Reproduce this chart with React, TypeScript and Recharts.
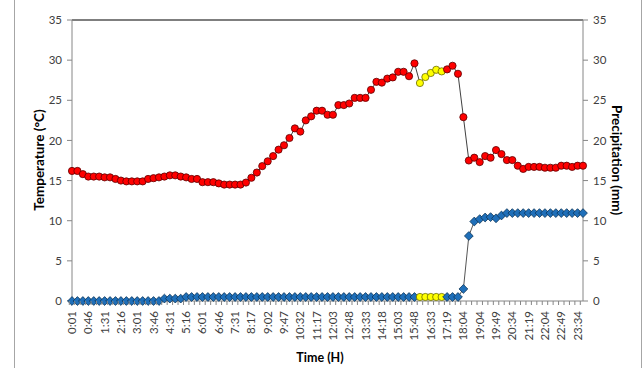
import React from "react";
import { ComposedChart, Line, XAxis, YAxis, ReferenceLine } from "recharts";

const times = [
  "0:01","0:16","0:31","0:46","1:01","1:16","1:31","1:46","2:01","2:16",
  "2:31","2:46","3:01","3:16","3:31","3:46","4:01","4:16","4:31","4:46",
  "5:01","5:16","5:31","5:46","6:01","6:16","6:31","6:46","7:01","7:16",
  "7:31","7:46","8:02","8:17","8:32","8:47","9:02","9:17","9:32","9:47",
  "10:02","10:17","10:32","10:47","11:02","11:17","11:33","11:48","12:03","12:18",
  "12:33","12:48","13:03","13:18","13:33","13:48","14:03","14:18","14:33","14:48",
  "15:03","15:18","15:33","15:48","16:03","16:18","16:33","16:49","17:04","17:19",
  "17:34","17:49","18:04","18:24","18:44","19:04","19:19","19:34","19:49","20:04",
  "20:19","20:34","20:49","21:04","21:19","21:34","21:49","22:04","22:19","22:34",
  "22:49","23:04","23:19","23:34","23:49",
];

const temperature = [
  16.2, 16.2, 15.8, 15.5, 15.5, 15.5, 15.4, 15.4, 15.2, 15.0,
  14.9, 14.9, 14.9, 14.9, 15.2, 15.3, 15.4, 15.5, 15.65, 15.65,
  15.5, 15.4, 15.2, 15.2, 14.8, 14.8, 14.8, 14.65, 14.5, 14.5,
  14.5, 14.5, 14.75, 15.35, 16.0, 16.8, 17.4, 18.05, 18.85, 19.4,
  20.3, 21.5, 21.1, 22.5, 23.0, 23.7, 23.7, 23.2, 23.2, 24.4,
  24.4, 24.6, 25.3, 25.3, 25.3, 26.3, 27.3, 27.2, 27.7, 27.85,
  28.55, 28.55, 28.0, 29.6, 27.15, 27.9, 28.4, 28.8, 28.6, 28.85,
  29.3, 28.3, 22.9, 17.5, 17.85, 17.3, 18.05, 17.85, 18.8, 18.3,
  17.55, 17.55, 16.85, 16.45, 16.7, 16.7, 16.7, 16.6, 16.6, 16.6,
  16.85, 16.85, 16.7, 16.85, 16.85,
];

const precipitation = [
  0, 0, 0, 0, 0, 0, 0, 0, 0, 0,
  0, 0, 0, 0, 0, 0, 0, 0.3, 0.3, 0.3,
  0.3, 0.5, 0.5, 0.5, 0.5, 0.5, 0.5, 0.5, 0.5, 0.5,
  0.5, 0.5, 0.5, 0.5, 0.5, 0.5, 0.5, 0.5, 0.5, 0.5,
  0.5, 0.5, 0.5, 0.5, 0.5, 0.5, 0.5, 0.5, 0.5, 0.5,
  0.5, 0.5, 0.5, 0.5, 0.5, 0.5, 0.5, 0.5, 0.5, 0.5,
  0.5, 0.5, 0.5, 0.5, 0.5, 0.5, 0.5, 0.5, 0.5, 0.5,
  0.5, 0.5, 1.5, 8.1, 9.9, 10.2, 10.4, 10.45, 10.3, 10.65,
  10.95, 10.95, 10.95, 10.95, 10.95, 10.95, 10.95, 10.95, 10.95, 10.95,
  10.95, 10.95, 10.95, 10.95, 10.95,
];

const highlighted = [64, 65, 66, 67, 68];
const yTicks = [0, 5, 10, 15, 20, 25, 30, 35];

const data = times.map((t, i) => ({
  time: t,
  temp: temperature[i],
  precip: precipitation[i],
}));

const FONT = "Lato, 'Noto Sans', sans-serif";
const AXIS_GRAY = "#868686";
const TEXT = "#404040";

const TempDot = (props: any) => {
  const { cx, cy, index } = props;
  if (cx == null || cy == null) return <g key={`t${index}`} />;
  const hl = highlighted.includes(index);
  return (
    <circle
      key={`t${index}`}
      cx={cx}
      cy={cy}
      r={3.6}
      fill={hl ? "#FFFF00" : "#FF0000"}
      stroke={hl ? "#6b6b00" : "#5a0000"}
      strokeWidth={0.8}
    />
  );
};

const PrecipDot = (props: any) => {
  const { cx, cy, index } = props;
  if (cx == null || cy == null) return <g key={`p${index}`} />;
  if (highlighted.includes(index)) {
    return (
      <circle
        key={`p${index}`}
        cx={cx}
        cy={cy}
        r={3.6}
        fill="#FFFF00"
        stroke="#6b6b00"
        strokeWidth={0.8}
      />
    );
  }
  const s = 4.4;
  return (
    <polygon
      key={`p${index}`}
      points={`${cx},${cy - s} ${cx + s},${cy} ${cx},${cy + s} ${cx - s},${cy}`}
      fill="#1F6FB9"
      stroke="#0d3558"
      strokeWidth={0.8}
    />
  );
};

const XTick = (props: any) => {
  const { x, y, payload, index, width } = props;
  const bw = (width || 511) / times.length;
  const axisY = y - 10;
  return (
    <g>
      <line x1={x - bw / 2} x2={x - bw / 2} y1={axisY} y2={axisY + 4} stroke={AXIS_GRAY} />
      {index % 3 === 0 && (
        <text
          transform={`translate(${x + 4},${y}) rotate(-90)`}
          textAnchor="end"
          fontSize={11.5}
          fontFamily={FONT}
          fill={TEXT}
        >
          {payload.value}
        </text>
      )}
    </g>
  );
};

export default function App() {
  return (
    <div style={{ position: "relative", width: 642, height: 368, background: "#fff" }}>
      <style>{"body{margin:0;background:#fff}"}</style>
      <div style={{ position: "absolute", left: 14, top: 0, width: 1, height: 368, background: "#a6a6a6" }} />
      <div style={{ position: "absolute", left: 641, top: 0, width: 1, height: 368, background: "#a6a6a6" }} />
      <ComposedChart
        width={642}
        height={368}
        data={data}
        margin={{ top: 20, right: 0, bottom: 0, left: 0 }}
      >
        <XAxis
          dataKey="time"
          interval={0}
          height={67}
          tick={<XTick />}
          tickLine={false}
          tickSize={4}
          tickMargin={6}
          axisLine={{ stroke: AXIS_GRAY }}
          label={{
            content: () => (
              <text
                x={320}
                y={362}
                textAnchor="middle"
                fontSize={12.5}
                fontWeight="bold"
                fontFamily={FONT}
                fill="#000"
              >
                Time (H)
              </text>
            ),
          }}
        />
        <YAxis
          yAxisId="left"
          domain={[0, 35]}
          ticks={yTicks}
          width={72}
          tickSize={5}
          tickMargin={5}
          tick={{ fontSize: 11.5, fontFamily: FONT, fill: TEXT }}
          axisLine={{ stroke: AXIS_GRAY }}
          tickLine={{ stroke: AXIS_GRAY }}
          label={{
            content: () => (
              <text
                transform="translate(39,160) rotate(-90)"
                textAnchor="middle"
                dominantBaseline="central"
                fontSize={13.5}
                fontWeight="bold"
                fontFamily={FONT}
                fill="#000"
              >
                Temperature (°C)
              </text>
            ),
          }}
        />
        <YAxis
          yAxisId="right"
          orientation="right"
          domain={[0, 35]}
          ticks={yTicks}
          width={59}
          tickSize={5}
          tickMargin={5}
          tick={{ fontSize: 11.5, fontFamily: FONT, fill: TEXT }}
          axisLine={{ stroke: AXIS_GRAY }}
          tickLine={{ stroke: AXIS_GRAY }}
          label={{
            content: () => (
              <text
                transform="translate(617,160) rotate(90)"
                textAnchor="middle"
                dominantBaseline="central"
                fontSize={13.5}
                fontWeight="bold"
                fontFamily={FONT}
                fill="#000"
              >
                Precipitation (mm)
              </text>
            ),
          }}
        />
        <ReferenceLine yAxisId="left" y={35} stroke="#000" strokeWidth={1.1} />
        <Line
          yAxisId="right"
          dataKey="precip"
          stroke="#555"
          strokeWidth={1}
          dot={PrecipDot}
          activeDot={false}
          isAnimationActive={false}
        />
        <Line
          yAxisId="left"
          dataKey="temp"
          stroke="#404040"
          strokeWidth={1}
          dot={TempDot}
          activeDot={false}
          isAnimationActive={false}
        />
      </ComposedChart>
    </div>
  );
}
